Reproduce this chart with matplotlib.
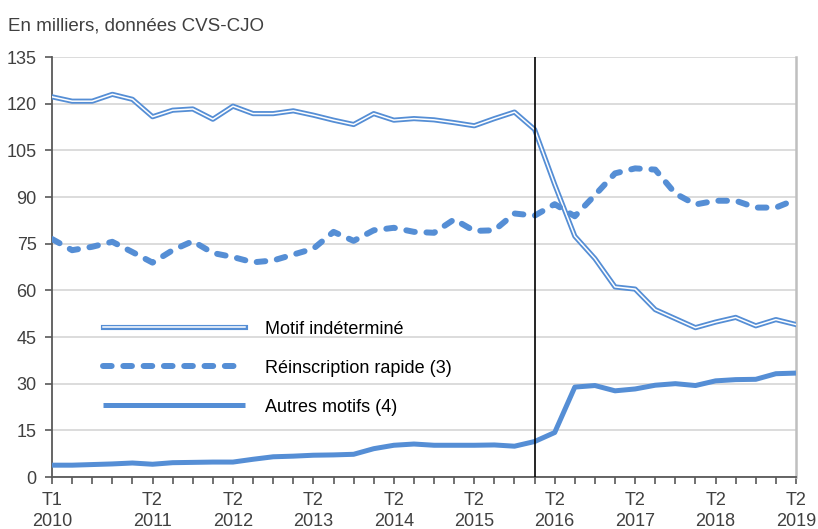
import numpy as np
import matplotlib
matplotlib.use("Agg")
import matplotlib.pyplot as plt
import matplotlib.patheffects as pe

plt.rcParams['font.family'] = ['Liberation Sans', 'DejaVu Sans']

# Trimestres T1 2010 -> T2 2019 (38 points)
quarters = [f"T{q}\n{y}" for y in range(2010, 2020) for q in range(1, 5)][:38]
label_idx = [0, 5, 9, 13, 17, 21, 25, 29, 33, 37]

motif_indetermine = [122.2, 120.8, 120.8, 123.0, 121.4, 115.8, 117.9, 118.3, 115.0, 119.2,
                     116.8, 116.8, 117.7, 116.3, 114.7, 113.3, 116.8, 114.7, 115.2, 114.8,
                     113.9, 112.9, 115.2, 117.3, 111.7, 94.0, 77.4, 70.2, 61.1, 60.4,
                     53.8, 50.9, 48.0, 49.8, 51.3, 48.6, 50.6, 49.0]
reinscription_rapide = [76.5, 72.9, 74.0, 75.6, 72.3, 68.9, 72.9, 75.8, 72.0, 70.7,
                        69.0, 69.6, 71.5, 73.4, 78.8, 75.9, 79.3, 80.1, 78.8, 78.5,
                        82.8, 79.1, 79.3, 84.7, 84.0, 87.7, 83.8, 90.6, 97.6, 99.2,
                        98.8, 91.1, 87.6, 88.8, 88.8, 86.6, 86.6, 89.2]
autres_motifs = [3.8, 3.8, 4.0, 4.2, 4.5, 4.1, 4.6, 4.7, 4.8, 4.8,
                 5.7, 6.5, 6.7, 7.0, 7.1, 7.3, 9.1, 10.2, 10.6, 10.2,
                 10.2, 10.2, 10.3, 9.9, 11.4, 14.3, 28.9, 29.4, 27.7, 28.3,
                 29.5, 30.0, 29.4, 30.9, 31.3, 31.4, 33.2, 33.4]
rupture_idx = 24  # T1 2016

blue = '#558ED5'
grey_txt = '#404040'
x = np.arange(len(quarters))

fig = plt.figure(figsize=(8.18, 5.29), dpi=100)
ax = fig.add_axes([52/818, 1 - 477/529, 744/818, 420/529])

# ligne double : trait bleu epais + trait blanc fin au milieu
ax.plot(x, motif_indetermine, color='white', lw=1.1, label='Motif indéterminé',
        path_effects=[pe.Stroke(linewidth=3.7, foreground=blue), pe.Normal()], zorder=3)
ax.plot(x, reinscription_rapide, color=blue, lw=4.3, dashes=(1.45, 1.95),
        dash_capstyle='round', label='Réinscription rapide (3)', zorder=3)
ax.plot(x, autres_motifs, color=blue, lw=3.6, solid_capstyle='butt',
        label='Autres motifs (4)', zorder=3)
ax.axvline(rupture_idx, color='black', lw=1.2, zorder=4)

ax.set_xlim(0, len(quarters) - 1)
ax.set_ylim(0, 135)
ax.set_yticks(np.arange(0, 136, 15))
ax.set_xticks(x)
ax.set_xticklabels([quarters[i] if i in label_idx else '' for i in x])
ax.tick_params(axis='both', direction='out', length=5, width=1.2, color='#595959',
               labelsize=13, labelcolor=grey_txt)
ax.tick_params(axis='x', pad=6)
ax.tick_params(axis='y', pad=6)
for lbl in ax.get_xticklabels():
    lbl.set_linespacing(1.25)

ax.grid(axis='y', color='#D9D9D9', lw=1.3, zorder=0)
ax.set_axisbelow(True)
ax.spines['top'].set_visible(False)
ax.spines['right'].set_color('#BFBFBF')
ax.spines['right'].set_linewidth(1.8)
for s in ('left', 'bottom'):
    ax.spines[s].set_color('#595959')
    ax.spines[s].set_linewidth(1.3)

ax.legend(loc='upper left', bbox_to_anchor=(0.068, 0.372), frameon=False,
          fontsize=13, handlelength=7.9, handletextpad=1.1, labelspacing=1.22,
          borderpad=0, borderaxespad=0)

fig.text(8/818, 1 - 26/529, 'En milliers, données CVS-CJO', fontsize=13.5,
         color=grey_txt, va='center', ha='left')

fig.savefig('out.png', dpi=100)
